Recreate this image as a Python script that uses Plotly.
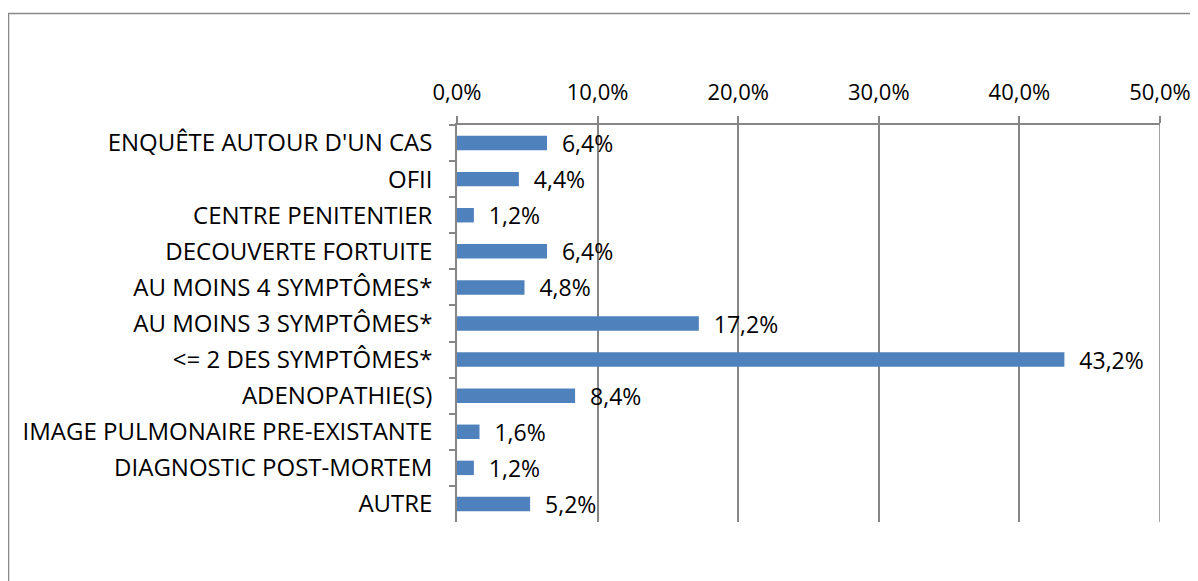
import plotly.graph_objects as go

categories = [
    "ENQUÊTE AUTOUR D'UN CAS",
    "OFII",
    "CENTRE PENITENTIER",
    "DECOUVERTE FORTUITE",
    "AU MOINS 4 SYMPTÔMES*",
    "AU MOINS 3 SYMPTÔMES*",
    "<= 2 DES SYMPTÔMES*",
    "ADENOPATHIE(S)",
    "IMAGE PULMONAIRE PRE-EXISTANTE",
    "DIAGNOSTIC POST-MORTEM",
    "AUTRE",
]
values = [0.064, 0.044, 0.012, 0.064, 0.048, 0.172, 0.432, 0.084, 0.016, 0.012, 0.052]
x_ticks = [0.0, 0.1, 0.2, 0.3, 0.4, 0.5]

FONT = "Open Sans, sans-serif"
FS = 23
GRID = "#868686"

# page has an 8px body margin
W, H = 1190, 573
L, R, T, B = 449, 38, 117, 59

fig = go.Figure(
    go.Bar(
        x=values,
        y=categories,
        orientation="h",
        marker=dict(color="#4F81BD", line=dict(width=0)),
        width=0.4,
        texttemplate="\u00a0\u00a0%{x:.1%}",
        textposition="outside",
        constraintext="none",
        cliponaxis=False,
        textfont=dict(family=FONT, size=FS, color="black"),
    )
)

pw = W - L - R
ph = H - T - B
fig.add_shape(
    type="rect", xref="paper", yref="paper",
    x0=(0.5 - L) / pw, x1=(W + 40 - L) / pw,
    y0=-(B + 40) / ph, y1=1 + (T - 5.5) / ph,
    line=dict(color="#898989", width=1.5), fillcolor="rgba(0,0,0,0)", layer="below",
)
# gridline at the last tick (plotly omits it at the range edge)
fig.add_shape(
    type="line", xref="x", yref="paper",
    x0=x_ticks[-1], x1=x_ticks[-1], y0=0, y1=1,
    line=dict(color=GRID, width=1.5), layer="below",
)

fig.update_layout(
    width=W, height=H,
    margin=dict(l=L, r=R, t=T, b=B, autoexpand=False),
    paper_bgcolor="white", plot_bgcolor="white",
    separators=", ",
    showlegend=False,
    font=dict(family=FONT, size=FS, color="black"),
)
fig.update_xaxes(
    side="top", range=[x_ticks[0], x_ticks[-1]], tickvals=x_ticks, tickformat=".1%",
    showgrid=True, gridcolor=GRID, gridwidth=1.5,
    showline=True, linecolor=GRID, linewidth=1.5,
    ticks="outside", ticklen=7, tickcolor=GRID, tickwidth=1.5,
    ticklabelstandoff=7, zeroline=False, ticklabeloverflow="allow",
    tickfont=dict(family=FONT, size=22, color="black"),
)
fig.update_yaxes(
    categoryorder="array", categoryarray=categories, autorange="reversed",
    showgrid=False, showline=True, linecolor=GRID, linewidth=1.5,
    ticks="outside", ticklen=6, tickcolor=GRID, tickwidth=1.5,
    tickson="boundaries", ticklabelstandoff=18,
    tickfont=dict(family=FONT, size=24, color="black"),
)

fig.write_html("out.html")
